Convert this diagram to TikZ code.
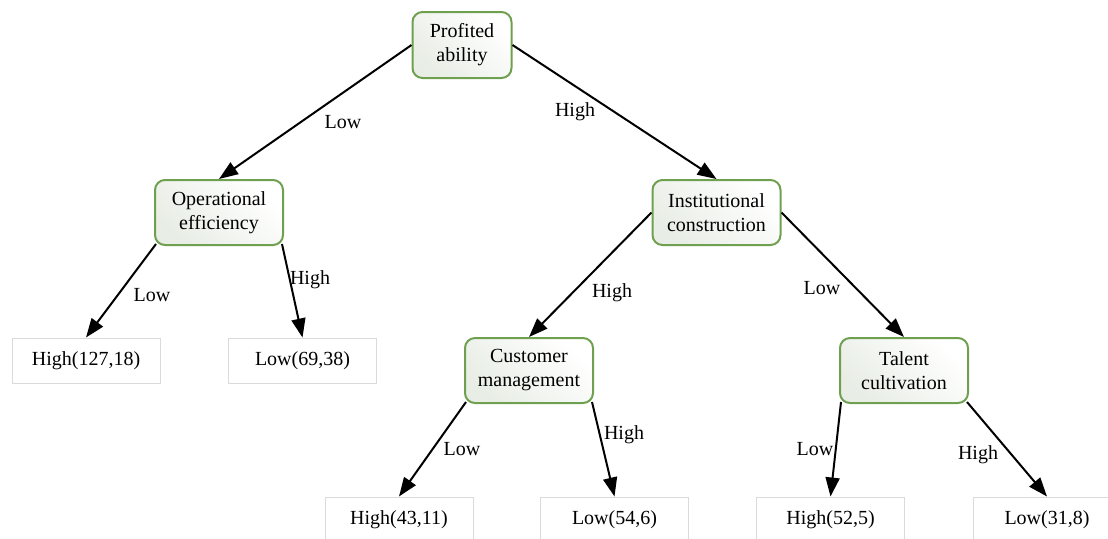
\documentclass[tikz,border=0pt]{standalone}
\usepackage{fontspec}
\setmainfont{Liberation Serif}
\usepackage{xcolor}
\usetikzlibrary{arrows.meta,positioning}
\definecolor{Leaf}{HTML}{6FA050}
\definecolor{LeafShade}{HTML}{E8EDE5}
\definecolor{Edge}{HTML}{DADADA}

\begin{document}
\begin{tikzpicture}[x=0.5pt,y=-0.5pt,
  split/.style={draw=Leaf,line width=1pt,rounded corners=5pt,align=center,font=\fontsize{10}{12}\selectfont,
    top color=white,bottom color=LeafShade,shading angle=-45,minimum width=64pt,minimum height=32.5pt,inner sep=2pt},
  result/.style={draw=Edge,line width=0.5pt,fill=white,font=\fontsize{10}{12}\selectfont,minimum width=74pt,minimum height=22.5pt},
  lbl/.style={font=\fontsize{10}{12}\selectfont,inner sep=1pt},
  arr/.style={-{Triangle[length=9.5pt,width=7pt]},line width=1pt,color=black}]
\useasboundingbox (0,0) rectangle (1108,538);
\node[split,minimum width=49.5pt,minimum height=33pt] (prof) at (462,45) {Profited\\ability};
\node[split] (oper) at (219,212.5) {Operational\\efficiency};
\node[split] (inst) at (716.5,212.5) {Institutional\\construction};
\node[split] (cust) at (529,370.5) {Customer\\management};
\node[split] (talent) at (904,370.5) {Talent\\cultivation};
\node[result] (opHigh) at (86,360.5) {High(127,18)};
\node[result] (opLow) at (302.5,360.5) {Low(69,38)};
\node[result] (cuHigh) at (399,519.5) {High(43,11)};
\node[result] (cuLow) at (614.5,519.5) {Low(54,6)};
\node[result] (taHigh) at (830.5,519.5) {High(52,5)};
\node[result] (taLow) at (1047,519.5) {Low(31,8)};
\draw[arr] (prof.west)--(oper.north);
\draw[arr] (prof.east)--(inst.north);
\draw[arr] ([shift={(2,-2)}]oper.south west)--(opHigh.north);
\draw[arr] ([shift={(-2,-2)}]oper.south east)--(opLow.north);
\draw[arr] (inst.west)--(cust.north);
\draw[arr] (inst.east)--(talent.north);
\draw[arr] ([shift={(2,-2)}]cust.south west)--(cuHigh.north);
\draw[arr] ([shift={(-2,-2)}]cust.south east)--(cuLow.north);
\draw[arr] ([shift={(2,-2)}]talent.south west)--(taHigh.north);
\draw[arr] ([shift={(-2,-2)}]talent.south east)--(taLow.north);
\node[lbl] (pLow) at (343,122) {Low};
\node[lbl] (pHigh) at (575,112) {High};
\node[lbl] (oLow) at (152,295) {Low};
\node[lbl] (oHigh) at (310,280) {High};
\node[lbl] (iHigh) at (612,293) {High};
\node[lbl] (iLow) at (822,288) {Low};
\node[lbl] (cLow) at (462,449) {Low};
\node[lbl] (cHigh) at (624,435) {High};
\node[lbl] (tLow) at (815,449) {Low};
\node[lbl] (tHigh) at (978,455) {High};
\end{tikzpicture}
\end{document}
